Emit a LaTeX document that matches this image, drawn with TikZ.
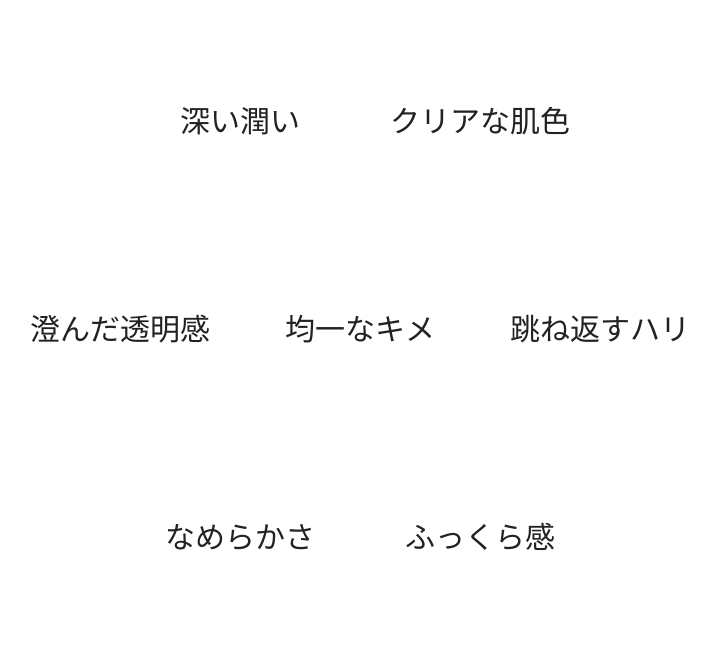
\documentclass[tikz,border=0pt]{standalone}
\usepackage{fontspec}
\newfontfamily\cjk{Noto Sans CJK JP}
\definecolor{txt}{HTML}{222222}
\begin{document}
\begin{tikzpicture}[x=1pt,y=-1pt,
  lbl/.style={font=\cjk\fontsize{30}{33}\selectfont, text=txt, inner sep=0pt, anchor=center}]
\useasboundingbox (0,0) rectangle (720,656);
\node[lbl] (a) at (240,121) {深い潤い};
\node[lbl] (b) at (480,121) {クリアな肌色};
\node[lbl] (c) at (120,329) {澄んだ透明感};
\node[lbl] (d) at (360,329) {均一なキメ};
\node[lbl] (e) at (600,329) {跳ね返すハリ};
\node[lbl] (f) at (240,537) {なめらかさ};
\node[lbl] (g) at (480,537) {ふっくら感};
\end{tikzpicture}
\end{document}
